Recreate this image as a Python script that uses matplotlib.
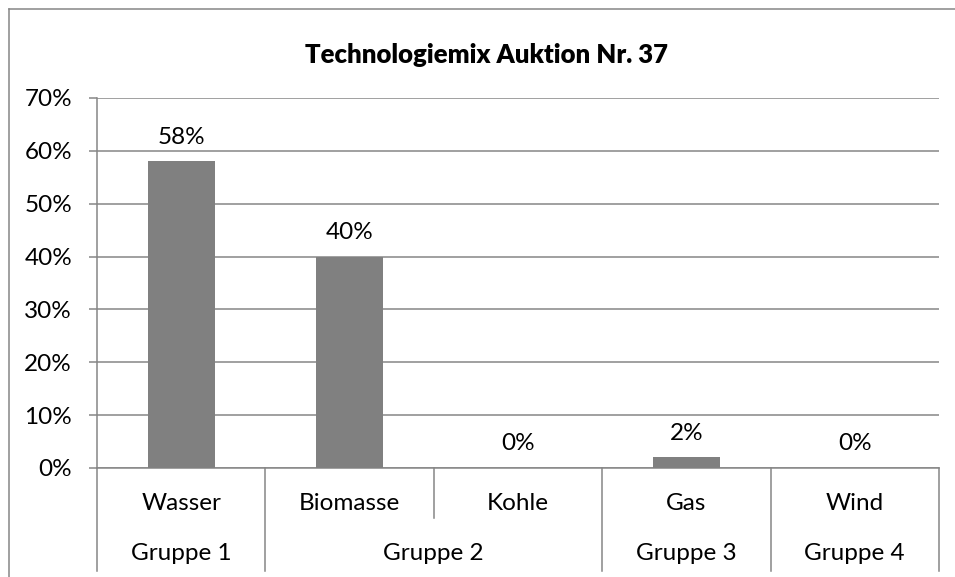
import matplotlib
matplotlib.use("Agg")
import matplotlib.pyplot as plt
from matplotlib.lines import Line2D
from matplotlib.ticker import FuncFormatter, MultipleLocator
import matplotlib.transforms as mtransforms

categories = ["Wasser", "Biomasse", "Kohle", "Gas", "Wind"]
values = [0.58, 0.40, 0.00, 0.02, 0.00]
value_labels = ["58%", "40%", "0%", "2%", "0%"]
groups = ["Gruppe 1", "Gruppe 2", "Gruppe 3", "Gruppe 4"]
group_sizes = [1, 2, 1, 1]
title = "Technologiemix Auktion Nr. 37"

W, H = 955, 577
plt.rcParams['font.family'] = ['Lato', 'DejaVu Sans']
FS = 17.5
GRID = '#868686'
BAR = '#808080'

fig = plt.figure(figsize=(W / 100, H / 100), dpi=100)
fig.patch.set_facecolor('white')

left, right, top, bottom = 97, 939, 98, 468
ax = fig.add_axes([left / W, 1 - bottom / H, (right - left) / W, (bottom - top) / H])

x = list(range(len(categories)))
ax.bar(x, values, width=0.4, color=BAR, zorder=3)
ax.set_xlim(-0.5, len(categories) - 0.5)
ax.set_ylim(0, 0.70)
ax.yaxis.set_major_locator(MultipleLocator(0.10))
ax.yaxis.set_major_formatter(FuncFormatter(lambda v, p: f"{round(v * 100):d}%"))
ax.yaxis.grid(True, color=GRID, linewidth=1.1, zorder=0)
ax.set_axisbelow(True)
for s in ['top', 'right']:
    ax.spines[s].set_visible(False)
for s in ['left', 'bottom']:
    ax.spines[s].set_color(GRID)
    ax.spines[s].set_linewidth(1.1)
ax.tick_params(axis='y', length=6, width=1.1, color=GRID, pad=12, labelsize=FS)
ax.tick_params(axis='x', length=0, labelbottom=False)

for xi, v, lab in zip(x, values, value_labels):
    ax.annotate(lab, (xi, v), xytext=(0, 10), textcoords='offset points',
                ha='center', va='bottom', fontsize=FS, color='black')

trans = mtransforms.blended_transform_factory(ax.transData, ax.transAxes)
px = 1.0 / (bottom - top)
cat_y = -(503 - bottom) * px
grp_y = -(553 - bottom) * px
long_end = -(571 - bottom) * px
short_end = -(518 - bottom) * px

for xi, c in zip(x, categories):
    ax.text(xi, cat_y, c, transform=trans, ha='center', va='center', fontsize=FS)

# group boundaries
boundaries = [-0.5]
pos = -0.5
centers = []
for n in group_sizes:
    centers.append(pos + n / 2)
    pos += n
    boundaries.append(pos)
for b in boundaries:
    ax.add_line(Line2D([b, b], [0, long_end], transform=trans, color=GRID,
                       linewidth=1.1, clip_on=False))
for i in range(1, len(categories)):
    b = i - 0.5
    if b not in boundaries:
        ax.add_line(Line2D([b, b], [0, short_end], transform=trans, color=GRID,
                           linewidth=1.1, clip_on=False))
for cx, g in zip(centers, groups):
    ax.text(cx, grp_y, g, transform=trans, ha='center', va='center', fontsize=FS)

# chart border (left and top; right/bottom off-canvas)
fig.add_artist(Line2D([8.5 / W, 8.5 / W], [0, 1 - 9 / H], color=GRID, linewidth=1.1))
fig.add_artist(Line2D([8.5 / W, 1], [1 - 9 / H, 1 - 9 / H], color=GRID, linewidth=1.1))

fig.text(486 / W, 1 - 55 / H, title, ha='center', va='center', fontsize=18.5,
         fontweight='heavy')

fig.savefig("out.png", dpi=100, facecolor='white')
